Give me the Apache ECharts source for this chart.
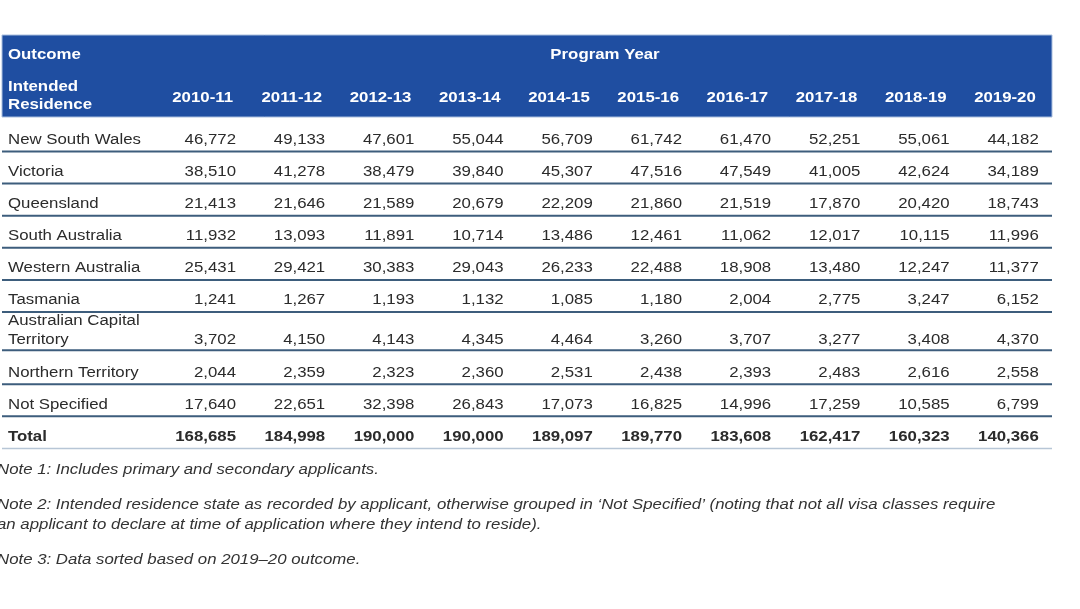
<!DOCTYPE html>
<html><head><meta charset="utf-8">
<script src="https://cdn.jsdelivr.net/npm/echarts@6/dist/echarts.min.js"></script>
<style>html,body{margin:0;padding:0;background:#fff}#c{width:1080px;height:609px}</style>
</head><body><div id="c"></div>
<script>
const years = ['2010-11','2011-12','2012-13','2013-14','2014-15','2015-16','2016-17','2017-18','2018-19','2019-20'];
const regionLabels = ['New South Wales','Victoria','Queensland','South Australia','Western Australia','Tasmania','Australian Capital\nTerritory','Northern Territory','Not Specified','Total'];
const newSouthWales = [46772,49133,47601,55044,56709,61742,61470,52251,55061,44182];
const victoria = [38510,41278,38479,39840,45307,47516,47549,41005,42624,34189];
const queensland = [21413,21646,21589,20679,22209,21860,21519,17870,20420,18743];
const southAustralia = [11932,13093,11891,10714,13486,12461,11062,12017,10115,11996];
const westernAustralia = [25431,29421,30383,29043,26233,22488,18908,13480,12247,11377];
const tasmania = [1241,1267,1193,1132,1085,1180,2004,2775,3247,6152];
const australianCapitalTerritory = [3702,4150,4143,4345,4464,3260,3707,3277,3408,4370];
const northernTerritory = [2044,2359,2323,2360,2531,2438,2393,2483,2616,2558];
const notSpecified = [17640,22651,32398,26843,17073,16825,14996,17259,10585,6799];
const total = [168685,184998,190000,190000,189097,189770,183608,162417,160323,140366];
const headerTitle = 'Outcome';
const headerGroup = 'Program Year';
const headerRowLabel = 'Intended\nResidence';
const notes = [
  'Note 1: Includes primary and secondary applicants.',
  'Note 2: Intended residence state as recorded by applicant, otherwise grouped in \u2018Not Specified\u2019 (noting that not all visa classes require\nan applicant to declare at time of application where they intend to reside).',
  'Note 3: Data sorted based on 2019\u201320 outcome.'
];

const rowsData = [newSouthWales,victoria,queensland,southAustralia,westernAustralia,tasmania,australianCapitalTerritory,northernTerritory,notSpecified,total];
const cellData = [];
rowsData.forEach((arr, r) => arr.forEach((v, c) => cellData.push([c, r, v])));
const rowData = regionLabels.map((l, r) => [0, r]);
const colData = years.map((y, c) => [c, 0]);

const FONT = '"Liberation Sans", Arial, sans-serif';
const SX = 1.2;
const TXT = '#2b2b2b';
const HEADER_BLUE = '#1f4ea1';
const TALL_ROW = 6;      // index of the two-line row
const TALL_EXTRA = 8;    // extra pixels given to the two-line row

function rowY(api, c, r) {
  const p = api.coord([c, r]);
  return [p[0], p[1] + (r >= TALL_ROW ? TALL_EXTRA : 0)];
}

function textEl(x, y, text, align, vAlign, size, weight, fill) {
  return {
    type: 'text', x: x, y: y, scaleX: SX, scaleY: 1,
    style: {
      text: text, x: 0, y: 0, fill: fill,
      fontSize: size, fontFamily: FONT, fontWeight: weight,
      align: align, verticalAlign: vAlign,
      textAlign: align, textVerticalAlign: vAlign
    }
  };
}
function noteEl(y, text) {
  return {type: 'text', x: -3, y: y, scaleX: 1.2, z: 5,
    style: {text: text, fill: '#333', font: 'italic 14px ' + FONT, lineHeight: 20,
      textAlign: 'left', textVerticalAlign: 'middle', align: 'left', verticalAlign: 'middle'}};
}

const chart = echarts.init(document.getElementById('c'), null, {renderer: 'canvas'});
const option = {
  animation: false,
  backgroundColor: '#ffffff',
  grid: {left: 146.8, right: 41.2, top: 123.95, bottom: 164},
  xAxis: {type: 'category', data: years, show: false, boundaryGap: true},
  yAxis: {type: 'category', data: regionLabels, show: false, inverse: true, boundaryGap: true},
  graphic: [
    {type: 'rect', shape: {x: 2, y: 35, width: 1050, height: 82}, style: {fill: HEADER_BLUE, stroke: '#a9bede', lineWidth: 1}, z: 0},
    {type: 'text', x: 8, y: 55, scaleX: SX, style: {text: headerTitle, fill: '#fff', font: 'bold 14px ' + FONT, textAlign: 'left', textVerticalAlign: 'middle', align: 'left', verticalAlign: 'middle'}, z: 5},
    {type: 'text', x: 605, y: 55, scaleX: SX, style: {text: headerGroup, fill: '#fff', font: 'bold 14px ' + FONT, textAlign: 'center', textVerticalAlign: 'middle', align: 'center', verticalAlign: 'middle'}, z: 5},
    {type: 'text', x: 8, y: 96, scaleX: SX, style: {text: headerRowLabel, fill: '#fff', font: 'bold 14px ' + FONT, lineHeight: 18, textAlign: 'left', textVerticalAlign: 'middle', align: 'left', verticalAlign: 'middle'}, z: 5},
    noteEl(470, notes[0]),
    noteEl(515, notes[1]),
    noteEl(560, notes[2])
  ],
  series: [
    {
      type: 'custom', name: 'rows', data: rowData, z: 2,
      renderItem: function (params, api) {
        const r = api.value(1);
        const cy = rowY(api, 0, r)[1];
        const isTotal = r === regionLabels.length - 1;
        const label = regionLabels[r];
        const children = [];
        const lineY = cy + (r === TALL_ROW ? 9.5 : 11.5);
        children.push({type: 'line', shape: {x1: 2, y1: lineY, x2: 1052, y2: lineY},
          style: {stroke: isTotal ? '#b7c6d6' : '#3d5d7c', lineWidth: isTotal ? 1.5 : 2}});
        if (label.indexOf('\n') >= 0) {
          const parts = label.split('\n');
          children.push(textEl(8, cy - 19, parts[0], 'left', 'middle', 14, 'normal', TXT));
          children.push(textEl(8, cy, parts[1], 'left', 'middle', 14, 'normal', TXT));
        } else {
          children.push(textEl(8, cy, label, 'left', 'middle', 14, isTotal ? 'bold' : 'normal', TXT));
        }
        return {type: 'group', children: children};
      }
    },
    {
      type: 'custom', name: 'header', data: colData, z: 6,
      renderItem: function (params, api) {
        const c = api.value(0);
        const p = api.coord([c, 0]);
        const w = api.size([1, 1])[0];
        return textEl(p[0] + w / 2 - 3, 98, years[c], 'right', 'middle', 14, 'bold', '#ffffff');
      }
    },
    {
      type: 'custom', name: 'cells', data: cellData, z: 3,
      renderItem: function (params, api) {
        const c = api.value(0), r = api.value(1), v = api.value(2);
        const p = rowY(api, c, r);
        const w = api.size([1, 1])[0];
        const isTotal = r === regionLabels.length - 1;
        return textEl(p[0] + w / 2, p[1], v.toLocaleString('en-US'), 'right', 'middle', 14, isTotal ? 'bold' : 'normal', TXT);
      }
    }
  ]
};
chart.setOption(option);
</script>
</body></html>
